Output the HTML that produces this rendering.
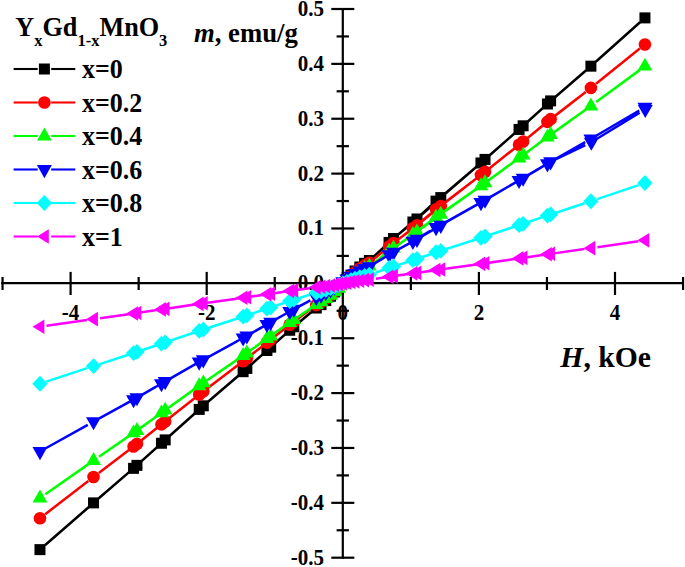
<!DOCTYPE html>
<html><head><meta charset="utf-8"><style>html,body{margin:0;padding:0;background:#fff;}svg{display:block;}</style></head>
<body><svg width="685" height="567" viewBox="0 0 685 567">
<line x1="342.8" y1="8" x2="342.8" y2="558.7" stroke="#000" stroke-width="2.2"/>
<line x1="1.2" y1="283.2" x2="684" y2="283.2" stroke="#000" stroke-width="2.2"/>
<line x1="331.3" y1="557.70" x2="354.3" y2="557.70" stroke="#000" stroke-width="2.2"/>
<line x1="336.6" y1="530.27" x2="348.9" y2="530.27" stroke="#000" stroke-width="2.2"/>
<line x1="331.3" y1="502.83" x2="354.3" y2="502.83" stroke="#000" stroke-width="2.2"/>
<line x1="336.6" y1="475.40" x2="348.9" y2="475.40" stroke="#000" stroke-width="2.2"/>
<line x1="331.3" y1="447.96" x2="354.3" y2="447.96" stroke="#000" stroke-width="2.2"/>
<line x1="336.6" y1="420.53" x2="348.9" y2="420.53" stroke="#000" stroke-width="2.2"/>
<line x1="331.3" y1="393.09" x2="354.3" y2="393.09" stroke="#000" stroke-width="2.2"/>
<line x1="336.6" y1="365.66" x2="348.9" y2="365.66" stroke="#000" stroke-width="2.2"/>
<line x1="331.3" y1="338.22" x2="354.3" y2="338.22" stroke="#000" stroke-width="2.2"/>
<line x1="336.6" y1="310.79" x2="348.9" y2="310.79" stroke="#000" stroke-width="2.2"/>
<line x1="331.3" y1="283.35" x2="354.3" y2="283.35" stroke="#000" stroke-width="2.2"/>
<line x1="336.6" y1="255.92" x2="348.9" y2="255.92" stroke="#000" stroke-width="2.2"/>
<line x1="331.3" y1="228.48" x2="354.3" y2="228.48" stroke="#000" stroke-width="2.2"/>
<line x1="336.6" y1="201.05" x2="348.9" y2="201.05" stroke="#000" stroke-width="2.2"/>
<line x1="331.3" y1="173.61" x2="354.3" y2="173.61" stroke="#000" stroke-width="2.2"/>
<line x1="336.6" y1="146.18" x2="348.9" y2="146.18" stroke="#000" stroke-width="2.2"/>
<line x1="331.3" y1="118.74" x2="354.3" y2="118.74" stroke="#000" stroke-width="2.2"/>
<line x1="336.6" y1="91.30" x2="348.9" y2="91.30" stroke="#000" stroke-width="2.2"/>
<line x1="331.3" y1="63.87" x2="354.3" y2="63.87" stroke="#000" stroke-width="2.2"/>
<line x1="336.6" y1="36.44" x2="348.9" y2="36.44" stroke="#000" stroke-width="2.2"/>
<line x1="331.3" y1="9.00" x2="354.3" y2="9.00" stroke="#000" stroke-width="2.2"/>
<line x1="2.55" y1="277" x2="2.55" y2="290" stroke="#000" stroke-width="2.2"/>
<line x1="70.60" y1="271.9" x2="70.60" y2="295" stroke="#000" stroke-width="2.2"/>
<line x1="138.65" y1="277" x2="138.65" y2="290" stroke="#000" stroke-width="2.2"/>
<line x1="206.70" y1="271.9" x2="206.70" y2="295" stroke="#000" stroke-width="2.2"/>
<line x1="274.75" y1="277" x2="274.75" y2="290" stroke="#000" stroke-width="2.2"/>
<line x1="342.80" y1="271.9" x2="342.80" y2="295" stroke="#000" stroke-width="2.2"/>
<line x1="410.85" y1="277" x2="410.85" y2="290" stroke="#000" stroke-width="2.2"/>
<line x1="478.90" y1="271.9" x2="478.90" y2="295" stroke="#000" stroke-width="2.2"/>
<line x1="546.95" y1="277" x2="546.95" y2="290" stroke="#000" stroke-width="2.2"/>
<line x1="615.00" y1="271.9" x2="615.00" y2="295" stroke="#000" stroke-width="2.2"/>
<line x1="683.05" y1="277" x2="683.05" y2="290" stroke="#000" stroke-width="2.2"/>
<g transform="translate(324.00,564.70) scale(1.0,1.05)"><text x="0" y="0" text-anchor="end" font-family="Liberation Serif" font-weight="bold" font-size="21">-0.5</text></g>
<g transform="translate(324.00,509.83) scale(1.0,1.05)"><text x="0" y="0" text-anchor="end" font-family="Liberation Serif" font-weight="bold" font-size="21">-0.4</text></g>
<g transform="translate(324.00,454.96) scale(1.0,1.05)"><text x="0" y="0" text-anchor="end" font-family="Liberation Serif" font-weight="bold" font-size="21">-0.3</text></g>
<g transform="translate(324.00,400.09) scale(1.0,1.05)"><text x="0" y="0" text-anchor="end" font-family="Liberation Serif" font-weight="bold" font-size="21">-0.2</text></g>
<g transform="translate(324.00,345.22) scale(1.0,1.05)"><text x="0" y="0" text-anchor="end" font-family="Liberation Serif" font-weight="bold" font-size="21">-0.1</text></g>
<g transform="translate(324.00,290.35) scale(1.0,1.05)"><text x="0" y="0" text-anchor="end" font-family="Liberation Serif" font-weight="bold" font-size="21">0.0</text></g>
<g transform="translate(324.00,235.48) scale(1.0,1.05)"><text x="0" y="0" text-anchor="end" font-family="Liberation Serif" font-weight="bold" font-size="21">0.1</text></g>
<g transform="translate(324.00,180.61) scale(1.0,1.05)"><text x="0" y="0" text-anchor="end" font-family="Liberation Serif" font-weight="bold" font-size="21">0.2</text></g>
<g transform="translate(324.00,125.74) scale(1.0,1.05)"><text x="0" y="0" text-anchor="end" font-family="Liberation Serif" font-weight="bold" font-size="21">0.3</text></g>
<g transform="translate(324.00,70.87) scale(1.0,1.05)"><text x="0" y="0" text-anchor="end" font-family="Liberation Serif" font-weight="bold" font-size="21">0.4</text></g>
<g transform="translate(324.00,16.00) scale(1.0,1.05)"><text x="0" y="0" text-anchor="end" font-family="Liberation Serif" font-weight="bold" font-size="21">0.5</text></g>
<g transform="translate(70.60,319.50) scale(1.0,1.05)"><text x="0" y="0" text-anchor="middle" font-family="Liberation Serif" font-weight="bold" font-size="21">-4</text></g>
<g transform="translate(206.70,319.50) scale(1.0,1.05)"><text x="0" y="0" text-anchor="middle" font-family="Liberation Serif" font-weight="bold" font-size="21">-2</text></g>
<g transform="translate(342.80,319.50) scale(1.0,1.05)"><text x="0" y="0" text-anchor="middle" font-family="Liberation Serif" font-weight="bold" font-size="21">0</text></g>
<g transform="translate(478.90,319.50) scale(1.0,1.05)"><text x="0" y="0" text-anchor="middle" font-family="Liberation Serif" font-weight="bold" font-size="21">2</text></g>
<g transform="translate(615.00,319.50) scale(1.0,1.05)"><text x="0" y="0" text-anchor="middle" font-family="Liberation Serif" font-weight="bold" font-size="21">4</text></g>
<g transform="translate(194.00,41.50) scale(1.0,1.0)"><text x="0" y="0" text-anchor="start" font-family="Liberation Serif" font-weight="bold" font-size="26.7"><tspan font-style="italic">m</tspan>, emu/g</text></g>
<g transform="translate(560.30,366.80) scale(1.0,1.0)"><text x="0" y="0" text-anchor="start" font-family="Liberation Serif" font-weight="bold" font-size="29.7"><tspan font-style="italic">H</tspan>, kOe</text></g>
<path d="M44.95 545.29L88.56 507.23M98.53 498.57L131.96 469.67M141.85 460.94L160.29 444.32M170.11 435.50L198.38 410.22M208.30 401.52L241.84 372.71M251.78 364.02L265.74 351.57M275.61 342.81L288.86 331.12M298.87 322.53L311.19 312.27M374.20 256.06L384.21 246.88M394.09 238.12L407.88 226.30M417.79 217.58L431.13 205.52M441.06 196.83L475.91 167.24M485.90 158.61L514.10 133.79M523.96 125.02L542.51 108.39M552.41 99.65L585.93 70.50M595.83 61.78L640.02 22.29M44.95 545.29L88.56 507.23M98.53 498.57L128.55 472.67M138.45 463.94L156.54 447.68M166.36 438.86L194.30 413.81M204.22 405.10L238.10 375.98M248.04 367.29L261.99 354.89M271.86 346.13L284.79 334.64M294.78 326.02L311.20 312.28M374.22 256.08L388.62 242.97M398.57 234.30L411.90 223.21M421.88 214.58L435.88 202.00M445.79 193.28L480.03 163.72M489.97 155.04L518.18 130.16M528.03 121.37L545.73 105.34M555.62 96.60L585.91 70.48M595.83 61.78L640.02 22.29" fill="none" stroke="#000000" stroke-width="2.5" stroke-linecap="butt"/>
<rect x="34.48" y="544.13" width="11.00" height="11.00" fill="#000000"/>
<rect x="88.03" y="497.38" width="11.00" height="11.00" fill="#000000"/>
<rect x="128.05" y="462.86" width="11.00" height="11.00" fill="#000000"/>
<rect x="131.45" y="459.86" width="11.00" height="11.00" fill="#000000"/>
<rect x="155.95" y="437.76" width="11.00" height="11.00" fill="#000000"/>
<rect x="159.69" y="434.40" width="11.00" height="11.00" fill="#000000"/>
<rect x="193.71" y="403.91" width="11.00" height="11.00" fill="#000000"/>
<rect x="197.80" y="400.32" width="11.00" height="11.00" fill="#000000"/>
<rect x="237.61" y="366.18" width="11.00" height="11.00" fill="#000000"/>
<rect x="241.35" y="362.91" width="11.00" height="11.00" fill="#000000"/>
<rect x="261.42" y="345.01" width="11.00" height="11.00" fill="#000000"/>
<rect x="265.17" y="341.68" width="11.00" height="11.00" fill="#000000"/>
<rect x="284.22" y="324.76" width="11.00" height="11.00" fill="#000000"/>
<rect x="288.30" y="321.25" width="11.00" height="11.00" fill="#000000"/>
<rect x="310.76" y="302.54" width="11.00" height="11.00" fill="#000000"/>
<rect x="315.52" y="299.13" width="11.00" height="11.00" fill="#000000"/>
<rect x="320.29" y="295.07" width="11.00" height="11.00" fill="#000000"/>
<rect x="325.05" y="290.74" width="11.00" height="11.00" fill="#000000"/>
<rect x="329.13" y="286.45" width="11.00" height="11.00" fill="#000000"/>
<rect x="333.22" y="282.15" width="11.00" height="11.00" fill="#000000"/>
<rect x="337.30" y="277.85" width="11.00" height="11.00" fill="#000000"/>
<rect x="341.38" y="273.73" width="11.00" height="11.00" fill="#000000"/>
<rect x="345.47" y="269.62" width="11.00" height="11.00" fill="#000000"/>
<rect x="349.55" y="265.50" width="11.00" height="11.00" fill="#000000"/>
<rect x="354.31" y="261.50" width="11.00" height="11.00" fill="#000000"/>
<rect x="359.08" y="257.84" width="11.00" height="11.00" fill="#000000"/>
<rect x="363.84" y="255.02" width="11.00" height="11.00" fill="#000000"/>
<rect x="383.57" y="236.92" width="11.00" height="11.00" fill="#000000"/>
<rect x="388.00" y="233.02" width="11.00" height="11.00" fill="#000000"/>
<rect x="407.39" y="216.51" width="11.00" height="11.00" fill="#000000"/>
<rect x="411.47" y="213.49" width="11.00" height="11.00" fill="#000000"/>
<rect x="430.53" y="195.60" width="11.00" height="11.00" fill="#000000"/>
<rect x="435.29" y="192.09" width="11.00" height="11.00" fill="#000000"/>
<rect x="475.44" y="157.47" width="11.00" height="11.00" fill="#000000"/>
<rect x="479.52" y="153.91" width="11.00" height="11.00" fill="#000000"/>
<rect x="513.55" y="123.93" width="11.00" height="11.00" fill="#000000"/>
<rect x="517.63" y="120.30" width="11.00" height="11.00" fill="#000000"/>
<rect x="541.93" y="98.48" width="11.00" height="11.00" fill="#000000"/>
<rect x="545.12" y="95.41" width="11.00" height="11.00" fill="#000000"/>
<rect x="585.41" y="60.67" width="11.00" height="11.00" fill="#000000"/>
<rect x="639.44" y="12.39" width="11.00" height="11.00" fill="#000000"/>
<path d="M45.21 514.19L88.30 481.01M98.78 472.98L131.70 447.88M142.11 439.77L160.02 425.53M170.37 417.34L198.12 395.46M208.56 387.39L241.59 362.36M252.04 354.29L265.48 343.73M275.87 335.59L288.60 325.68M299.12 317.72L310.94 309.04M374.43 258.60L383.98 250.71M394.30 242.48L407.67 232.17M418.01 223.98L430.91 213.49M441.27 205.32L475.70 179.01M486.11 170.91L513.88 148.92M524.19 140.67L542.29 126.06M552.62 117.85L585.71 91.96M596.05 83.76L639.80 48.57M45.21 514.19L88.30 481.01M98.78 472.98L128.29 450.52M138.72 442.43L156.28 428.50M166.62 420.30L194.04 398.62M204.47 390.54L237.85 365.24M248.30 357.18L261.73 346.66M272.12 338.51L284.53 328.80M295.03 320.80L310.95 309.05M374.44 258.62L388.39 247.19M398.78 239.05L411.69 229.38M422.11 221.27L435.66 210.31M446.00 202.12L479.81 175.85M490.19 167.70L517.96 145.65M528.25 137.38L545.51 123.32M555.84 115.11L585.70 91.94M596.05 83.76L639.80 48.57" fill="none" stroke="#ff0000" stroke-width="2.5" stroke-linecap="butt"/>
<circle cx="39.98" cy="518.21" r="6.3" fill="#ff0000"/>
<circle cx="93.53" cy="476.98" r="6.3" fill="#ff0000"/>
<circle cx="133.55" cy="446.53" r="6.3" fill="#ff0000"/>
<circle cx="136.95" cy="443.88" r="6.3" fill="#ff0000"/>
<circle cx="161.45" cy="424.39" r="6.3" fill="#ff0000"/>
<circle cx="165.19" cy="421.43" r="6.3" fill="#ff0000"/>
<circle cx="199.21" cy="394.53" r="6.3" fill="#ff0000"/>
<circle cx="203.30" cy="391.37" r="6.3" fill="#ff0000"/>
<circle cx="243.11" cy="361.26" r="6.3" fill="#ff0000"/>
<circle cx="246.85" cy="358.37" r="6.3" fill="#ff0000"/>
<circle cx="266.92" cy="342.58" r="6.3" fill="#ff0000"/>
<circle cx="270.67" cy="339.65" r="6.3" fill="#ff0000"/>
<circle cx="289.72" cy="324.72" r="6.3" fill="#ff0000"/>
<circle cx="293.80" cy="321.63" r="6.3" fill="#ff0000"/>
<circle cx="316.26" cy="305.13" r="6.3" fill="#ff0000"/>
<circle cx="321.02" cy="302.12" r="6.3" fill="#ff0000"/>
<circle cx="325.79" cy="298.53" r="6.3" fill="#ff0000"/>
<circle cx="330.55" cy="294.72" r="6.3" fill="#ff0000"/>
<circle cx="334.63" cy="290.93" r="6.3" fill="#ff0000"/>
<circle cx="338.72" cy="287.14" r="6.3" fill="#ff0000"/>
<circle cx="342.80" cy="283.35" r="6.3" fill="#ff0000"/>
<circle cx="346.88" cy="279.65" r="6.3" fill="#ff0000"/>
<circle cx="350.97" cy="275.94" r="6.3" fill="#ff0000"/>
<circle cx="355.05" cy="272.24" r="6.3" fill="#ff0000"/>
<circle cx="359.81" cy="268.64" r="6.3" fill="#ff0000"/>
<circle cx="364.58" cy="265.34" r="6.3" fill="#ff0000"/>
<circle cx="369.34" cy="262.81" r="6.3" fill="#ff0000"/>
<circle cx="389.07" cy="246.51" r="6.3" fill="#ff0000"/>
<circle cx="393.50" cy="243.00" r="6.3" fill="#ff0000"/>
<circle cx="412.89" cy="228.14" r="6.3" fill="#ff0000"/>
<circle cx="416.97" cy="225.42" r="6.3" fill="#ff0000"/>
<circle cx="436.03" cy="209.32" r="6.3" fill="#ff0000"/>
<circle cx="440.79" cy="206.16" r="6.3" fill="#ff0000"/>
<circle cx="480.94" cy="175.01" r="6.3" fill="#ff0000"/>
<circle cx="485.02" cy="171.80" r="6.3" fill="#ff0000"/>
<circle cx="519.05" cy="144.82" r="6.3" fill="#ff0000"/>
<circle cx="523.13" cy="141.55" r="6.3" fill="#ff0000"/>
<circle cx="547.43" cy="121.92" r="6.3" fill="#ff0000"/>
<circle cx="550.62" cy="119.15" r="6.3" fill="#ff0000"/>
<circle cx="590.91" cy="87.89" r="6.3" fill="#ff0000"/>
<circle cx="644.94" cy="44.44" r="6.3" fill="#ff0000"/>
<path d="M45.39 494.20L88.12 464.36M98.96 456.82L131.52 434.31M142.30 426.69L159.84 414.05M170.56 406.35L197.93 386.77M208.74 379.19L241.41 356.73M252.22 349.16L265.29 339.84M276.06 332.21L288.41 323.48M299.30 316.01L310.77 308.36M374.60 262.16L383.81 255.20M394.47 247.41L407.50 238.21M418.19 230.46L430.73 221.12M441.44 213.39L475.53 189.54M486.28 181.88L513.71 161.99M524.36 154.20L542.12 141.07M552.79 133.31L585.55 109.84M596.22 102.08L639.63 70.12M45.39 494.20L88.12 464.36M98.96 456.83L128.11 436.71M138.90 429.10L156.09 416.74M166.81 409.04L193.85 389.64M204.65 382.05L237.67 359.35M248.49 351.79L261.55 342.50M272.30 334.85L284.34 326.30M295.20 318.81L310.78 308.38M374.62 262.18L388.22 251.97M398.94 244.28L411.53 235.65M422.28 227.99L435.49 218.21M446.17 210.46L479.65 186.65M490.36 178.94L517.79 159.01M528.42 151.18L545.33 138.56M556.01 130.79L585.53 109.82M596.22 102.08L639.63 70.12" fill="none" stroke="#00ff00" stroke-width="2.5" stroke-linecap="butt"/>
<polygon points="39.98,489.48 47.38,502.38 32.58,502.38" fill="#00ff00"/>
<polygon points="93.53,452.08 100.93,464.98 86.13,464.98" fill="#00ff00"/>
<polygon points="133.55,424.46 140.95,437.36 126.15,437.36" fill="#00ff00"/>
<polygon points="136.95,422.05 144.35,434.95 129.55,434.95" fill="#00ff00"/>
<polygon points="161.45,404.38 168.85,417.28 154.05,417.28" fill="#00ff00"/>
<polygon points="165.19,401.69 172.59,414.59 157.79,414.59" fill="#00ff00"/>
<polygon points="199.21,377.29 206.61,390.19 191.81,390.19" fill="#00ff00"/>
<polygon points="203.30,374.43 210.70,387.33 195.90,387.33" fill="#00ff00"/>
<polygon points="243.11,347.11 250.51,360.01 235.71,360.01" fill="#00ff00"/>
<polygon points="246.85,344.50 254.25,357.40 239.45,357.40" fill="#00ff00"/>
<polygon points="266.92,330.18 274.32,343.08 259.52,343.08" fill="#00ff00"/>
<polygon points="270.67,327.51 278.07,340.41 263.27,340.41" fill="#00ff00"/>
<polygon points="289.72,313.98 297.12,326.88 282.32,326.88" fill="#00ff00"/>
<polygon points="293.80,311.17 301.20,324.07 286.40,324.07" fill="#00ff00"/>
<polygon points="316.26,296.20 323.66,309.10 308.86,309.10" fill="#00ff00"/>
<polygon points="321.02,293.47 328.42,306.37 313.62,306.37" fill="#00ff00"/>
<polygon points="325.79,290.22 333.19,303.12 318.39,303.12" fill="#00ff00"/>
<polygon points="330.55,286.77 337.95,299.67 323.15,299.67" fill="#00ff00"/>
<polygon points="334.63,283.33 342.03,296.23 327.23,296.23" fill="#00ff00"/>
<polygon points="338.72,279.89 346.12,292.79 331.32,292.79" fill="#00ff00"/>
<polygon points="342.80,276.45 350.20,289.35 335.40,289.35" fill="#00ff00"/>
<polygon points="346.88,273.06 354.28,285.96 339.48,285.96" fill="#00ff00"/>
<polygon points="350.97,269.67 358.37,282.57 343.57,282.57" fill="#00ff00"/>
<polygon points="355.05,266.28 362.45,279.18 347.65,279.18" fill="#00ff00"/>
<polygon points="359.81,262.98 367.21,275.88 352.41,275.88" fill="#00ff00"/>
<polygon points="364.58,259.96 371.98,272.86 357.18,272.86" fill="#00ff00"/>
<polygon points="369.34,257.64 376.74,270.54 361.94,270.54" fill="#00ff00"/>
<polygon points="389.07,242.72 396.47,255.62 381.67,255.62" fill="#00ff00"/>
<polygon points="393.50,239.51 400.90,252.41 386.10,252.41" fill="#00ff00"/>
<polygon points="412.89,225.90 420.29,238.80 405.49,238.80" fill="#00ff00"/>
<polygon points="416.97,223.42 424.37,236.32 409.57,236.32" fill="#00ff00"/>
<polygon points="436.03,208.68 443.43,221.58 428.63,221.58" fill="#00ff00"/>
<polygon points="440.79,205.78 448.19,218.68 433.39,218.68" fill="#00ff00"/>
<polygon points="480.94,177.26 488.34,190.16 473.54,190.16" fill="#00ff00"/>
<polygon points="485.02,174.32 492.42,187.22 477.62,187.22" fill="#00ff00"/>
<polygon points="519.05,149.62 526.45,162.52 511.65,162.52" fill="#00ff00"/>
<polygon points="523.13,146.63 530.53,159.53 515.73,159.53" fill="#00ff00"/>
<polygon points="547.43,128.65 554.83,141.55 540.03,141.55" fill="#00ff00"/>
<polygon points="550.62,126.12 558.02,139.02 543.22,139.02" fill="#00ff00"/>
<polygon points="590.91,97.50 598.31,110.40 583.51,110.40" fill="#00ff00"/>
<polygon points="644.94,57.71 652.34,70.61 637.54,70.61" fill="#00ff00"/>
<path d="M45.74 448.23L87.77 424.82M99.31 418.43L131.17 400.86M142.67 394.38L159.47 384.72M170.92 378.16L197.56 362.96M209.09 356.52L241.06 338.99M252.59 332.55L264.93 325.54M276.42 319.03L288.05 312.48M299.63 306.14L310.43 300.40M374.99 263.15L383.42 258.06M394.83 251.42L407.14 244.48M418.57 237.88L430.35 230.88M441.79 224.30L475.18 205.68M486.65 199.16L513.34 183.73M524.74 177.07L541.74 167.05M553.16 160.43L585.18 142.14M596.60 135.52L639.25 110.48M45.74 448.23L87.77 424.82M99.31 418.43L127.76 402.77M139.27 396.30L155.72 386.86M167.18 380.30L193.49 365.25M205.00 358.80L237.32 341.08M248.85 334.65L261.18 327.65M272.67 321.14L283.98 314.73M295.54 308.37L310.44 300.41M375.00 263.16L387.83 255.49M399.29 248.93L411.18 242.43M422.66 235.91L435.11 228.56M446.53 221.95L479.28 203.38M490.73 196.81L517.42 181.35M528.80 174.66L544.95 165.06M556.58 158.83L585.37 145.01M596.96 138.73L639.64 112.77" fill="none" stroke="#0000ff" stroke-width="2.5" stroke-linecap="butt"/>
<polygon points="39.98,460.14 47.48,447.04 32.48,447.04" fill="#0000ff"/>
<polygon points="93.53,430.31 101.03,417.21 86.03,417.21" fill="#0000ff"/>
<polygon points="133.55,408.29 141.05,395.19 126.05,395.19" fill="#0000ff"/>
<polygon points="136.95,406.37 144.45,393.27 129.45,393.27" fill="#0000ff"/>
<polygon points="161.45,392.28 168.95,379.18 153.95,379.18" fill="#0000ff"/>
<polygon points="165.19,390.13 172.69,377.03 157.69,377.03" fill="#0000ff"/>
<polygon points="199.21,370.67 206.71,357.57 191.71,357.57" fill="#0000ff"/>
<polygon points="203.30,368.39 210.80,355.29 195.80,355.29" fill="#0000ff"/>
<polygon points="243.11,346.60 250.61,333.50 235.61,333.50" fill="#0000ff"/>
<polygon points="246.85,344.52 254.35,331.42 239.35,331.42" fill="#0000ff"/>
<polygon points="266.92,333.10 274.42,320.00 259.42,320.00" fill="#0000ff"/>
<polygon points="270.67,330.97 278.17,317.87 263.17,317.87" fill="#0000ff"/>
<polygon points="289.72,320.18 297.22,307.08 282.22,307.08" fill="#0000ff"/>
<polygon points="293.80,317.94 301.30,304.84 286.30,304.84" fill="#0000ff"/>
<polygon points="316.26,306.00 323.76,292.90 308.76,292.90" fill="#0000ff"/>
<polygon points="321.02,303.82 328.52,290.72 313.52,290.72" fill="#0000ff"/>
<polygon points="325.79,301.23 333.29,288.13 318.29,288.13" fill="#0000ff"/>
<polygon points="330.55,298.48 338.05,285.38 323.05,285.38" fill="#0000ff"/>
<polygon points="334.63,295.73 342.13,282.63 327.13,282.63" fill="#0000ff"/>
<polygon points="338.72,292.99 346.22,279.89 331.22,279.89" fill="#0000ff"/>
<polygon points="342.80,290.25 350.30,277.15 335.30,277.15" fill="#0000ff"/>
<polygon points="346.88,287.55 354.38,274.45 339.38,274.45" fill="#0000ff"/>
<polygon points="350.97,284.84 358.47,271.74 343.47,271.74" fill="#0000ff"/>
<polygon points="355.05,282.14 362.55,269.04 347.55,269.04" fill="#0000ff"/>
<polygon points="359.81,279.51 367.31,266.41 352.31,266.41" fill="#0000ff"/>
<polygon points="364.58,277.10 372.08,264.00 357.08,264.00" fill="#0000ff"/>
<polygon points="369.34,275.25 376.84,262.15 361.84,262.15" fill="#0000ff"/>
<polygon points="389.07,263.36 396.57,250.26 381.57,250.26" fill="#0000ff"/>
<polygon points="393.50,260.80 401.00,247.70 386.00,247.70" fill="#0000ff"/>
<polygon points="412.89,249.95 420.39,236.85 405.39,236.85" fill="#0000ff"/>
<polygon points="416.97,247.96 424.47,234.86 409.47,234.86" fill="#0000ff"/>
<polygon points="436.03,236.21 443.53,223.11 428.53,223.11" fill="#0000ff"/>
<polygon points="440.79,233.90 448.29,220.80 433.29,220.80" fill="#0000ff"/>
<polygon points="480.94,211.16 488.44,198.06 473.44,198.06" fill="#0000ff"/>
<polygon points="485.02,208.82 492.52,195.72 477.52,195.72" fill="#0000ff"/>
<polygon points="519.05,189.12 526.55,176.02 511.55,176.02" fill="#0000ff"/>
<polygon points="523.13,186.74 530.63,173.64 515.63,173.64" fill="#0000ff"/>
<polygon points="547.43,172.40 554.93,159.30 539.93,159.30" fill="#0000ff"/>
<polygon points="550.62,170.39 558.12,157.29 543.12,157.29" fill="#0000ff"/>
<polygon points="590.91,147.57 598.41,134.47 583.41,134.47" fill="#0000ff"/>
<polygon points="591.32,150.86 598.82,137.76 583.82,137.76" fill="#0000ff"/>
<polygon points="644.94,115.84 652.44,102.74 637.44,102.74" fill="#0000ff"/>
<polygon points="645.28,118.04 652.78,104.94 637.78,104.94" fill="#0000ff"/>
<path d="M46.25 381.68L87.26 368.18M99.81 364.07L130.67 354.01M143.20 349.84L158.94 344.49M171.44 340.26L197.04 331.63M209.58 327.49L240.57 317.45M253.11 313.31L264.41 309.52M276.93 305.33L287.54 301.80M300.10 297.73L309.96 294.64M375.58 272.56L382.84 270.04M395.35 265.84L406.61 262.20M419.14 258.03L429.78 254.39M442.31 250.24L474.66 239.86M487.20 235.76L512.79 227.25M525.30 223.05L541.18 217.67M553.70 213.49L584.64 203.32M597.16 199.15L638.69 185.12M46.25 381.68L87.26 368.18M99.81 364.07L127.27 355.14M139.80 350.98L155.20 345.76M167.70 341.52L192.96 332.99M205.49 328.84L236.83 318.68M249.36 314.55L260.67 310.77M273.18 306.57L283.46 303.13M296.01 299.05L309.97 294.65M375.58 272.57L387.26 268.55M399.79 264.42L410.68 261.00M423.22 256.90L434.54 253.05M447.07 248.88L478.75 238.55M491.29 234.41L516.87 225.88M529.38 221.66L544.38 216.52M556.90 212.34L584.64 203.30M597.16 199.15L638.69 185.12" fill="none" stroke="#00ffff" stroke-width="2.5" stroke-linecap="butt"/>
<polygon points="39.98,375.84 47.68,383.74 39.98,391.64 32.28,383.74" fill="#00ffff"/>
<polygon points="93.53,358.21 101.23,366.11 93.53,374.01 85.83,366.11" fill="#00ffff"/>
<polygon points="133.55,345.20 141.25,353.10 133.55,361.00 125.85,353.10" fill="#00ffff"/>
<polygon points="136.95,344.07 144.65,351.97 136.95,359.87 129.25,351.97" fill="#00ffff"/>
<polygon points="161.45,335.74 169.15,343.64 161.45,351.54 153.75,343.64" fill="#00ffff"/>
<polygon points="165.19,334.47 172.89,342.37 165.19,350.27 157.49,342.37" fill="#00ffff"/>
<polygon points="199.21,322.97 206.91,330.87 199.21,338.77 191.51,330.87" fill="#00ffff"/>
<polygon points="203.30,321.62 211.00,329.52 203.30,337.42 195.60,329.52" fill="#00ffff"/>
<polygon points="243.11,308.75 250.81,316.65 243.11,324.55 235.41,316.65" fill="#00ffff"/>
<polygon points="246.85,307.52 254.55,315.42 246.85,323.32 239.15,315.42" fill="#00ffff"/>
<polygon points="266.92,300.77 274.62,308.67 266.92,316.57 259.22,308.67" fill="#00ffff"/>
<polygon points="270.67,299.51 278.37,307.41 270.67,315.31 262.97,307.41" fill="#00ffff"/>
<polygon points="289.72,293.14 297.42,301.04 289.72,308.94 282.02,301.04" fill="#00ffff"/>
<polygon points="293.80,291.81 301.50,299.71 293.80,307.61 286.10,299.71" fill="#00ffff"/>
<polygon points="316.26,284.76 323.96,292.66 316.26,300.56 308.56,292.66" fill="#00ffff"/>
<polygon points="321.02,283.47 328.72,291.37 321.02,299.27 313.32,291.37" fill="#00ffff"/>
<polygon points="325.79,281.94 333.49,289.84 325.79,297.74 318.09,289.84" fill="#00ffff"/>
<polygon points="330.55,280.31 338.25,288.21 330.55,296.11 322.85,288.21" fill="#00ffff"/>
<polygon points="334.63,278.69 342.33,286.59 334.63,294.49 326.93,286.59" fill="#00ffff"/>
<polygon points="338.72,277.07 346.42,284.97 338.72,292.87 331.02,284.97" fill="#00ffff"/>
<polygon points="342.80,275.45 350.50,283.35 342.80,291.25 335.10,283.35" fill="#00ffff"/>
<polygon points="346.88,273.89 354.58,281.79 346.88,289.69 339.18,281.79" fill="#00ffff"/>
<polygon points="350.97,272.34 358.67,280.24 350.97,288.14 343.27,280.24" fill="#00ffff"/>
<polygon points="355.05,270.78 362.75,278.68 355.05,286.58 347.35,278.68" fill="#00ffff"/>
<polygon points="359.81,269.27 367.51,277.17 359.81,285.07 352.11,277.17" fill="#00ffff"/>
<polygon points="364.58,267.89 372.28,275.79 364.58,283.69 356.88,275.79" fill="#00ffff"/>
<polygon points="369.34,266.82 377.04,274.72 369.34,282.62 361.64,274.72" fill="#00ffff"/>
<polygon points="389.07,259.98 396.77,267.88 389.07,275.78 381.37,267.88" fill="#00ffff"/>
<polygon points="393.50,258.50 401.20,266.40 393.50,274.30 385.80,266.40" fill="#00ffff"/>
<polygon points="412.89,252.26 420.59,260.16 412.89,268.06 405.19,260.16" fill="#00ffff"/>
<polygon points="416.97,251.12 424.67,259.02 416.97,266.92 409.27,259.02" fill="#00ffff"/>
<polygon points="436.03,244.36 443.73,252.26 436.03,260.16 428.33,252.26" fill="#00ffff"/>
<polygon points="440.79,243.03 448.49,250.93 440.79,258.83 433.09,250.93" fill="#00ffff"/>
<polygon points="480.94,229.95 488.64,237.85 480.94,245.75 473.24,237.85" fill="#00ffff"/>
<polygon points="485.02,228.60 492.72,236.50 485.02,244.40 477.32,236.50" fill="#00ffff"/>
<polygon points="519.05,217.27 526.75,225.17 519.05,233.07 511.35,225.17" fill="#00ffff"/>
<polygon points="523.13,215.89 530.83,223.79 523.13,231.69 515.43,223.79" fill="#00ffff"/>
<polygon points="547.43,207.65 555.13,215.55 547.43,223.45 539.73,215.55" fill="#00ffff"/>
<polygon points="550.62,206.49 558.32,214.39 550.62,222.29 542.92,214.39" fill="#00ffff"/>
<polygon points="590.91,193.36 598.61,201.26 590.91,209.16 583.21,201.26" fill="#00ffff"/>
<polygon points="644.94,175.11 652.64,183.01 644.94,190.91 637.24,183.01" fill="#00ffff"/>
<path d="M46.51 325.82L87.00 320.06M100.07 318.21L130.41 313.94M143.48 312.06L158.66 309.83M171.72 307.92L196.77 304.27M209.83 302.40L240.31 298.13M253.38 296.27L264.14 294.70M277.20 292.81L287.27 291.36M300.34 289.54L309.72 288.26M375.87 278.68L382.55 277.69M395.61 275.81L406.35 274.32M419.42 272.46L429.50 270.98M442.57 269.13L474.40 264.75M487.48 262.92L512.52 259.35M525.58 257.47L540.89 255.24M553.96 253.37L584.37 249.09M597.44 247.22L638.41 241.29M46.51 325.82L87.00 320.06M100.07 318.21L127.01 314.43M140.08 312.55L154.92 310.37M167.98 308.46L192.68 304.85M205.75 302.98L236.57 298.66M249.64 296.80L260.39 295.24M273.46 293.35L283.19 291.94M296.26 290.10L309.72 288.27M375.87 278.69L386.97 277.05M400.04 275.21L410.43 273.80M423.51 271.97L434.26 270.41M447.33 268.54L478.49 264.19M491.56 262.34L516.60 258.76M529.66 256.87L544.09 254.75M557.16 252.88L584.37 249.08M597.44 247.22L638.41 241.29" fill="none" stroke="#ff00ff" stroke-width="2.5" stroke-linecap="butt"/>
<polygon points="32.58,326.75 44.38,319.45 44.38,334.05" fill="#ff00ff"/>
<polygon points="86.13,319.13 97.93,311.83 97.93,326.43" fill="#ff00ff"/>
<polygon points="126.15,313.51 137.95,306.21 137.95,320.81" fill="#ff00ff"/>
<polygon points="129.55,313.02 141.35,305.72 141.35,320.32" fill="#ff00ff"/>
<polygon points="154.05,309.42 165.85,302.12 165.85,316.72" fill="#ff00ff"/>
<polygon points="157.79,308.87 169.59,301.57 169.59,316.17" fill="#ff00ff"/>
<polygon points="191.81,303.90 203.61,296.60 203.61,311.20" fill="#ff00ff"/>
<polygon points="195.90,303.31 207.70,296.01 207.70,310.61" fill="#ff00ff"/>
<polygon points="235.71,297.75 247.51,290.45 247.51,305.05" fill="#ff00ff"/>
<polygon points="239.45,297.21 251.25,289.91 251.25,304.51" fill="#ff00ff"/>
<polygon points="259.52,294.30 271.32,287.00 271.32,301.60" fill="#ff00ff"/>
<polygon points="263.27,293.75 275.07,286.45 275.07,301.05" fill="#ff00ff"/>
<polygon points="282.32,291.00 294.12,283.70 294.12,298.30" fill="#ff00ff"/>
<polygon points="286.40,290.42 298.20,283.12 298.20,297.72" fill="#ff00ff"/>
<polygon points="308.86,287.37 320.66,280.07 320.66,294.67" fill="#ff00ff"/>
<polygon points="313.62,286.82 325.42,279.52 325.42,294.12" fill="#ff00ff"/>
<polygon points="318.39,286.16 330.19,278.86 330.19,293.46" fill="#ff00ff"/>
<polygon points="323.15,285.45 334.95,278.15 334.95,292.75" fill="#ff00ff"/>
<polygon points="327.23,284.75 339.03,277.45 339.03,292.05" fill="#ff00ff"/>
<polygon points="331.32,284.05 343.12,276.75 343.12,291.35" fill="#ff00ff"/>
<polygon points="335.40,283.35 347.20,276.05 347.20,290.65" fill="#ff00ff"/>
<polygon points="339.48,282.68 351.28,275.38 351.28,289.98" fill="#ff00ff"/>
<polygon points="343.57,282.02 355.37,274.72 355.37,289.32" fill="#ff00ff"/>
<polygon points="347.65,281.35 359.45,274.05 359.45,288.65" fill="#ff00ff"/>
<polygon points="352.41,280.70 364.21,273.40 364.21,288.00" fill="#ff00ff"/>
<polygon points="357.18,280.11 368.98,272.81 368.98,287.41" fill="#ff00ff"/>
<polygon points="361.94,279.65 373.74,272.35 373.74,286.95" fill="#ff00ff"/>
<polygon points="381.67,276.72 393.47,269.42 393.47,284.02" fill="#ff00ff"/>
<polygon points="386.10,276.09 397.90,268.79 397.90,283.39" fill="#ff00ff"/>
<polygon points="405.49,273.41 417.29,266.11 417.29,280.71" fill="#ff00ff"/>
<polygon points="409.57,272.92 421.37,265.62 421.37,280.22" fill="#ff00ff"/>
<polygon points="428.63,270.03 440.43,262.73 440.43,277.33" fill="#ff00ff"/>
<polygon points="433.39,269.46 445.19,262.16 445.19,276.76" fill="#ff00ff"/>
<polygon points="473.54,263.85 485.34,256.55 485.34,271.15" fill="#ff00ff"/>
<polygon points="477.62,263.27 489.42,255.97 489.42,270.57" fill="#ff00ff"/>
<polygon points="511.65,258.41 523.45,251.11 523.45,265.71" fill="#ff00ff"/>
<polygon points="515.73,257.83 527.53,250.53 527.53,265.13" fill="#ff00ff"/>
<polygon points="540.03,254.29 551.83,246.99 551.83,261.59" fill="#ff00ff"/>
<polygon points="543.22,253.79 555.02,246.49 555.02,261.09" fill="#ff00ff"/>
<polygon points="583.51,248.17 595.31,240.87 595.31,255.47" fill="#ff00ff"/>
<polygon points="637.54,240.35 649.34,233.05 649.34,247.65" fill="#ff00ff"/>
<g transform="translate(15.30,35.50) scale(1.0,1.05)"><text x="0" y="0" text-anchor="start" font-family="Liberation Serif" font-weight="bold" font-size="26.2">Y<tspan font-size="16.5" dy="9.8">x</tspan><tspan dy="-9.8">Gd</tspan><tspan font-size="16.5" dy="9.8">1-x</tspan><tspan dy="-9.8">MnO</tspan><tspan font-size="16.5" dy="9.8">3</tspan></text></g>
<line x1="13.6" y1="69.00" x2="37.7" y2="69.00" stroke="#000000" stroke-width="2.1"/>
<line x1="51.2" y1="69.00" x2="75.3" y2="69.00" stroke="#000000" stroke-width="2.1"/>
<rect x="38.90" y="63.50" width="11.00" height="11.00" fill="#000000"/>
<g transform="translate(82.00,78.20) scale(1.0,1.05)"><text x="0" y="0" text-anchor="start" font-family="Liberation Serif" font-weight="bold" font-size="26.0">x=0</text></g>
<line x1="13.6" y1="102.50" x2="37.7" y2="102.50" stroke="#ff0000" stroke-width="2.1"/>
<line x1="51.2" y1="102.50" x2="75.3" y2="102.50" stroke="#ff0000" stroke-width="2.1"/>
<circle cx="44.40" cy="102.50" r="6.3" fill="#ff0000"/>
<g transform="translate(82.00,111.70) scale(1.0,1.05)"><text x="0" y="0" text-anchor="start" font-family="Liberation Serif" font-weight="bold" font-size="26.0">x=0.2</text></g>
<line x1="13.6" y1="136.00" x2="37.7" y2="136.00" stroke="#00ff00" stroke-width="2.1"/>
<line x1="51.2" y1="136.00" x2="75.3" y2="136.00" stroke="#00ff00" stroke-width="2.1"/>
<polygon points="44.40,127.50 51.80,140.40 37.00,140.40" fill="#00ff00"/>
<g transform="translate(82.00,145.20) scale(1.0,1.05)"><text x="0" y="0" text-anchor="start" font-family="Liberation Serif" font-weight="bold" font-size="26.0">x=0.4</text></g>
<line x1="13.6" y1="169.50" x2="37.7" y2="169.50" stroke="#0000ff" stroke-width="2.1"/>
<line x1="51.2" y1="169.50" x2="75.3" y2="169.50" stroke="#0000ff" stroke-width="2.1"/>
<polygon points="44.40,178.20 51.90,165.10 36.90,165.10" fill="#0000ff"/>
<g transform="translate(82.00,178.70) scale(1.0,1.05)"><text x="0" y="0" text-anchor="start" font-family="Liberation Serif" font-weight="bold" font-size="26.0">x=0.6</text></g>
<line x1="13.6" y1="203.00" x2="37.7" y2="203.00" stroke="#00ffff" stroke-width="2.1"/>
<line x1="51.2" y1="203.00" x2="75.3" y2="203.00" stroke="#00ffff" stroke-width="2.1"/>
<polygon points="44.40,195.10 52.10,203.00 44.40,210.90 36.70,203.00" fill="#00ffff"/>
<g transform="translate(82.00,212.20) scale(1.0,1.05)"><text x="0" y="0" text-anchor="start" font-family="Liberation Serif" font-weight="bold" font-size="26.0">x=0.8</text></g>
<line x1="13.6" y1="236.50" x2="37.7" y2="236.50" stroke="#ff00ff" stroke-width="2.1"/>
<line x1="51.2" y1="236.50" x2="75.3" y2="236.50" stroke="#ff00ff" stroke-width="2.1"/>
<polygon points="37.00,236.50 48.80,229.20 48.80,243.80" fill="#ff00ff"/>
<g transform="translate(82.00,245.70) scale(1.0,1.05)"><text x="0" y="0" text-anchor="start" font-family="Liberation Serif" font-weight="bold" font-size="26.0">x=1</text></g>
</svg></body></html>
